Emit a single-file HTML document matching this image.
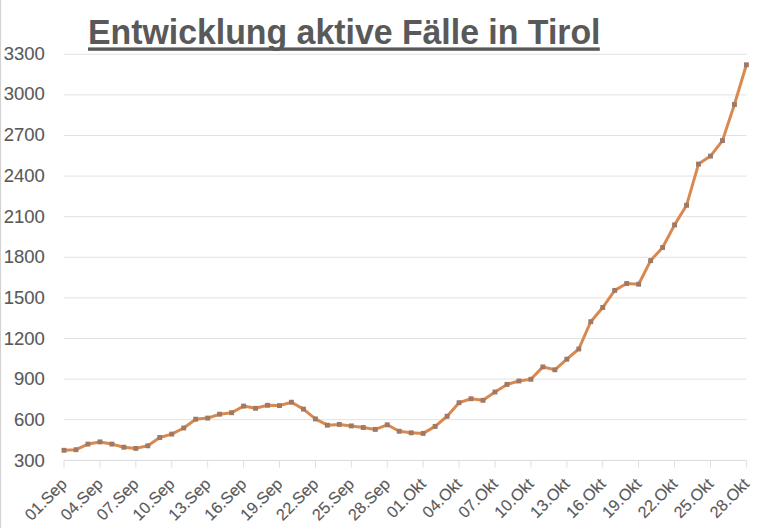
<!DOCTYPE html>
<html><head><meta charset="utf-8"><style>
html,body{margin:0;padding:0;background:#fff;}
body{width:768px;height:528px;overflow:hidden;position:relative;}
svg{position:absolute;left:0;top:0;}
.t{font-family:"Liberation Sans",sans-serif;}
</style></head><body>
<svg width="768" height="528" viewBox="0 0 768 528">
<rect x="0" y="0" width="768" height="528" fill="#fff"/>
<line x1="0.5" y1="0" x2="0.5" y2="528" stroke="#d2d2d2" stroke-width="1.2"/>
<g stroke="#e2e2e2" stroke-width="1"><line x1="64" x2="746.5" y1="419.7" y2="419.7"/><line x1="64" x2="746.5" y1="379.1" y2="379.1"/><line x1="64" x2="746.5" y1="338.5" y2="338.5"/><line x1="64" x2="746.5" y1="297.9" y2="297.9"/><line x1="64" x2="746.5" y1="257.3" y2="257.3"/><line x1="64" x2="746.5" y1="216.7" y2="216.7"/><line x1="64" x2="746.5" y1="176.1" y2="176.1"/><line x1="64" x2="746.5" y1="135.5" y2="135.5"/><line x1="64" x2="746.5" y1="94.9" y2="94.9"/><line x1="64" x2="746.5" y1="54.3" y2="54.3"/></g>
<line x1="64" x2="746.5" y1="460.4" y2="460.4" stroke="#d9dbde" stroke-width="1"/>
<g stroke="#dfdfdf" stroke-width="1"><line x1="64" x2="64" y1="460.4" y2="467.5"/><line x1="99.92" x2="99.92" y1="460.4" y2="467.5"/><line x1="135.83" x2="135.83" y1="460.4" y2="467.5"/><line x1="171.75" x2="171.75" y1="460.4" y2="467.5"/><line x1="207.66" x2="207.66" y1="460.4" y2="467.5"/><line x1="243.58" x2="243.58" y1="460.4" y2="467.5"/><line x1="279.49" x2="279.49" y1="460.4" y2="467.5"/><line x1="315.41" x2="315.41" y1="460.4" y2="467.5"/><line x1="351.33" x2="351.33" y1="460.4" y2="467.5"/><line x1="387.24" x2="387.24" y1="460.4" y2="467.5"/><line x1="423.16" x2="423.16" y1="460.4" y2="467.5"/><line x1="459.07" x2="459.07" y1="460.4" y2="467.5"/><line x1="494.99" x2="494.99" y1="460.4" y2="467.5"/><line x1="530.91" x2="530.91" y1="460.4" y2="467.5"/><line x1="566.82" x2="566.82" y1="460.4" y2="467.5"/><line x1="602.74" x2="602.74" y1="460.4" y2="467.5"/><line x1="638.65" x2="638.65" y1="460.4" y2="467.5"/><line x1="674.57" x2="674.57" y1="460.4" y2="467.5"/><line x1="710.48" x2="710.48" y1="460.4" y2="467.5"/><line x1="746.4" x2="746.4" y1="460.4" y2="467.5"/></g>
<g class="t" fill="#595959" font-size="18.5" text-anchor="end" stroke="#595959" stroke-width="0.1"><text x="44.8" y="466.6">300</text><text x="44.8" y="425.92">600</text><text x="44.8" y="385.24">900</text><text x="44.8" y="344.56">1200</text><text x="44.8" y="303.88">1500</text><text x="44.8" y="263.2">1800</text><text x="44.8" y="222.52">2100</text><text x="44.8" y="181.84">2400</text><text x="44.8" y="141.16">2700</text><text x="44.8" y="100.48">3000</text><text x="44.8" y="59.8">3300</text></g>
<g class="t" fill="#595959" font-size="16.3" text-anchor="end" stroke="#595959" stroke-width="0.12"><text transform="translate(67.9 485) rotate(-45)">01.Sep</text><text transform="translate(103.82 485) rotate(-45)">04.Sep</text><text transform="translate(139.73 485) rotate(-45)">07.Sep</text><text transform="translate(175.65 485) rotate(-45)">10.Sep</text><text transform="translate(211.56 485) rotate(-45)">13.Sep</text><text transform="translate(247.48 485) rotate(-45)">16.Sep</text><text transform="translate(283.39 485) rotate(-45)">19.Sep</text><text transform="translate(319.31 485) rotate(-45)">22.Sep</text><text transform="translate(355.23 485) rotate(-45)">25.Sep</text><text transform="translate(391.14 485) rotate(-45)">28.Sep</text><text transform="translate(427.06 485) rotate(-45)">01.Okt</text><text transform="translate(462.97 485) rotate(-45)">04.Okt</text><text transform="translate(498.89 485) rotate(-45)">07.Okt</text><text transform="translate(534.81 485) rotate(-45)">10.Okt</text><text transform="translate(570.72 485) rotate(-45)">13.Okt</text><text transform="translate(606.64 485) rotate(-45)">16.Okt</text><text transform="translate(642.55 485) rotate(-45)">19.Okt</text><text transform="translate(678.47 485) rotate(-45)">22.Okt</text><text transform="translate(714.38 485) rotate(-45)">25.Okt</text><text transform="translate(750.3 485) rotate(-45)">28.Okt</text></g>
<path d="M64 450.3 L75.97 449.7 L87.94 444.1 L99.92 441.9 L111.89 444.1 L123.86 447.2 L135.83 448.4 L147.8 445.8 L159.78 437.5 L171.75 434.1 L183.72 428 L195.69 419.2 L207.66 418.1 L219.64 414.2 L231.61 412.7 L243.58 406.1 L255.55 408.3 L267.52 405.3 L279.49 405.6 L291.47 402.2 L303.44 409.1 L315.41 418.9 L327.38 425.2 L339.35 424.4 L351.33 425.9 L363.3 427.5 L375.27 429.4 L387.24 424.8 L399.21 431.25 L411.19 432.8 L423.16 433.4 L435.13 426.4 L447.1 416.25 L459.07 402.7 L471.05 398.75 L483.02 400.3 L494.99 392 L506.96 384.4 L518.93 381 L530.91 379.3 L542.88 366.9 L554.85 369.8 L566.82 359.2 L578.79 349 L590.76 321.7 L602.74 307.5 L614.71 290.4 L626.68 283.5 L638.65 284.2 L650.62 260.6 L662.6 247.5 L674.57 224.9 L686.54 205.3 L698.51 164.1 L710.48 156.1 L722.46 140.6 L734.43 104.5 L746.4 64.8" fill="none" stroke="#d9894f" stroke-width="3" stroke-linejoin="round" stroke-linecap="round"/>
<g fill="#9e7a66"><rect x="61.55" y="447.85" width="4.9" height="4.9"/><rect x="73.52" y="447.25" width="4.9" height="4.9"/><rect x="85.49" y="441.65" width="4.9" height="4.9"/><rect x="97.47" y="439.45" width="4.9" height="4.9"/><rect x="109.44" y="441.65" width="4.9" height="4.9"/><rect x="121.41" y="444.75" width="4.9" height="4.9"/><rect x="133.38" y="445.95" width="4.9" height="4.9"/><rect x="145.35" y="443.35" width="4.9" height="4.9"/><rect x="157.33" y="435.05" width="4.9" height="4.9"/><rect x="169.3" y="431.65" width="4.9" height="4.9"/><rect x="181.27" y="425.55" width="4.9" height="4.9"/><rect x="193.24" y="416.75" width="4.9" height="4.9"/><rect x="205.21" y="415.65" width="4.9" height="4.9"/><rect x="217.19" y="411.75" width="4.9" height="4.9"/><rect x="229.16" y="410.25" width="4.9" height="4.9"/><rect x="241.13" y="403.65" width="4.9" height="4.9"/><rect x="253.1" y="405.85" width="4.9" height="4.9"/><rect x="265.07" y="402.85" width="4.9" height="4.9"/><rect x="277.04" y="403.15" width="4.9" height="4.9"/><rect x="289.02" y="399.75" width="4.9" height="4.9"/><rect x="300.99" y="406.65" width="4.9" height="4.9"/><rect x="312.96" y="416.45" width="4.9" height="4.9"/><rect x="324.93" y="422.75" width="4.9" height="4.9"/><rect x="336.9" y="421.95" width="4.9" height="4.9"/><rect x="348.88" y="423.45" width="4.9" height="4.9"/><rect x="360.85" y="425.05" width="4.9" height="4.9"/><rect x="372.82" y="426.95" width="4.9" height="4.9"/><rect x="384.79" y="422.35" width="4.9" height="4.9"/><rect x="396.76" y="428.8" width="4.9" height="4.9"/><rect x="408.74" y="430.35" width="4.9" height="4.9"/><rect x="420.71" y="430.95" width="4.9" height="4.9"/><rect x="432.68" y="423.95" width="4.9" height="4.9"/><rect x="444.65" y="413.8" width="4.9" height="4.9"/><rect x="456.62" y="400.25" width="4.9" height="4.9"/><rect x="468.6" y="396.3" width="4.9" height="4.9"/><rect x="480.57" y="397.85" width="4.9" height="4.9"/><rect x="492.54" y="389.55" width="4.9" height="4.9"/><rect x="504.51" y="381.95" width="4.9" height="4.9"/><rect x="516.48" y="378.55" width="4.9" height="4.9"/><rect x="528.46" y="376.85" width="4.9" height="4.9"/><rect x="540.43" y="364.45" width="4.9" height="4.9"/><rect x="552.4" y="367.35" width="4.9" height="4.9"/><rect x="564.37" y="356.75" width="4.9" height="4.9"/><rect x="576.34" y="346.55" width="4.9" height="4.9"/><rect x="588.31" y="319.25" width="4.9" height="4.9"/><rect x="600.29" y="305.05" width="4.9" height="4.9"/><rect x="612.26" y="287.95" width="4.9" height="4.9"/><rect x="624.23" y="281.05" width="4.9" height="4.9"/><rect x="636.2" y="281.75" width="4.9" height="4.9"/><rect x="648.17" y="258.15" width="4.9" height="4.9"/><rect x="660.15" y="245.05" width="4.9" height="4.9"/><rect x="672.12" y="222.45" width="4.9" height="4.9"/><rect x="684.09" y="202.85" width="4.9" height="4.9"/><rect x="696.06" y="161.65" width="4.9" height="4.9"/><rect x="708.03" y="153.65" width="4.9" height="4.9"/><rect x="720.01" y="138.15" width="4.9" height="4.9"/><rect x="731.98" y="102.05" width="4.9" height="4.9"/><rect x="743.95" y="62.35" width="4.9" height="4.9"/></g>
<text class="t" transform="translate(88 44.2) scale(0.967 1)" font-size="35" font-weight="bold" fill="#595959">Entwicklung aktive Fälle in Tirol</text>
<rect x="88" y="47.4" width="511.8" height="3.4" fill="#595959"/>
</svg>
</body></html>
